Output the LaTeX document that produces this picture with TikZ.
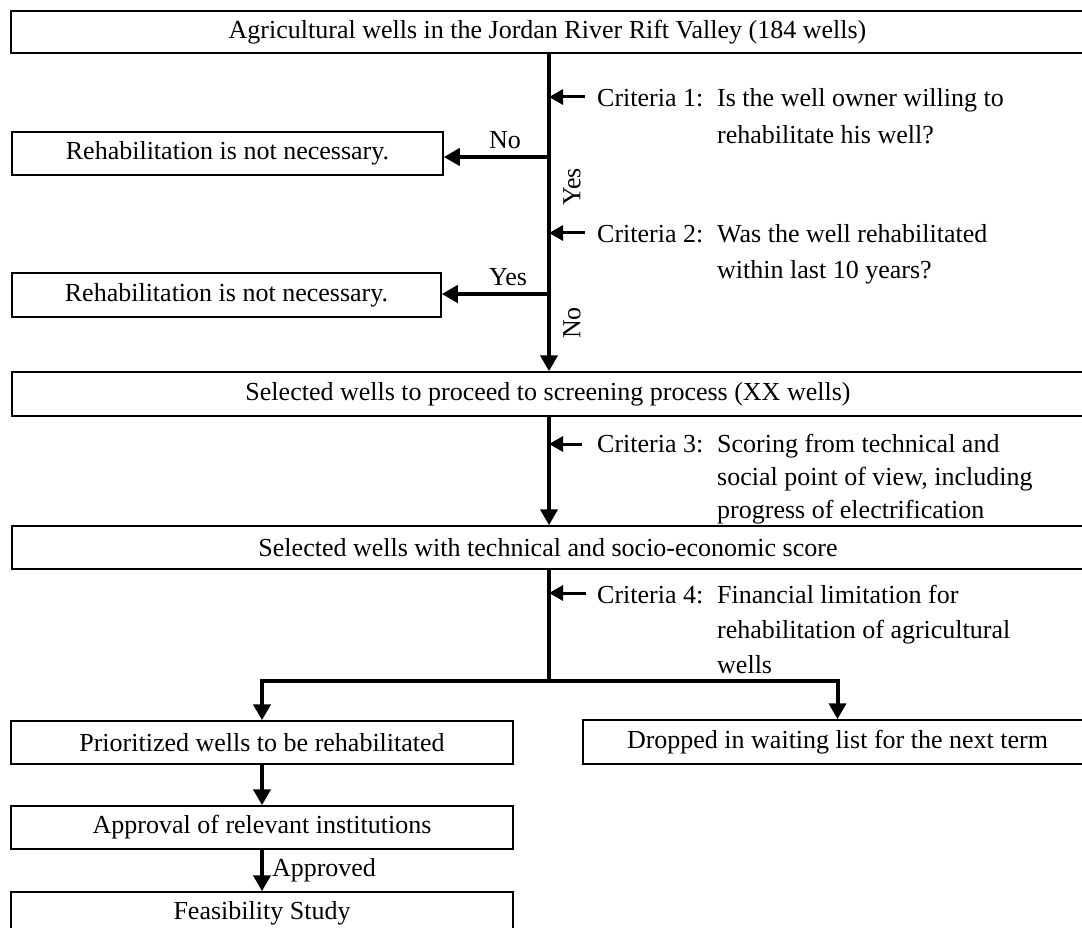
\documentclass[tikz,border=0pt]{standalone}
\usepackage{fontspec}
\setmainfont{Liberation Serif}
\usetikzlibrary{arrows.meta,calc}
\begin{document}
\begin{tikzpicture}[x=1pt,y=-1pt,
  font=\fontsize{26}{33}\selectfont,
  box/.style={draw, line width=1.5pt, inner sep=0pt, anchor=center},
  flow/.style={line width=4pt, -{Triangle[length=16pt,width=17pt]}},
  crit/.style={line width=3pt, -{Triangle[length=14pt,width=15pt]}},
  lbl/.style={inner sep=0pt}]
\useasboundingbox (0,0) rectangle (1082,928);
\clip (0,0) rectangle (1082,928);

% boxes
\node[box, minimum width=1073pt, minimum height=42pt] (top) at (547.5,32)
  {Agricultural wells in the Jordan River Rift Valley (184 wells)};
\node[box, minimum width=431pt, minimum height=43pt] (rehab1) at (227.5,153.5)
  {Rehabilitation is not necessary.};
\node[box, minimum width=429pt, minimum height=44pt] (rehab2) at (226.5,295)
  {Rehabilitation is not necessary.};
\node[box, minimum width=1072pt, minimum height=44pt] (sel1) at (548,394)
  {Selected wells to proceed to screening process (XX wells)};
\node[box, minimum width=1072pt, minimum height=43pt] (sel2) at (548,547.5)
  {Selected wells with technical and socio-economic score};
\node[box, minimum width=502pt, minimum height=43pt] (prior) at (262,742.5)
  {Prioritized wells to be rehabilitated};
\node[box, minimum width=509pt, minimum height=44pt] (drop) at (837.5,742)
  {Dropped in waiting list for the next term};
\node[box, minimum width=502pt, minimum height=43pt] (appr) at (262,827.5)
  {Approval of relevant institutions};
\node[box, minimum width=502pt, minimum height=43pt] (feas) at (262,913.5)
  {Feasibility Study};

% main spine and branches
\coordinate (spine) at (549,0);
\coordinate (b1) at (549,157);
\coordinate (b2) at (549,294);
\coordinate (split) at (549,681);
\draw[flow] (top.south -| spine) -- (sel1.north -| spine);
\draw[flow] (b1) -- (b1 -| rehab1.east);
\draw[flow] (b2) -- (b2 -| rehab2.east);
\draw[flow] (sel1.south -| spine) -- (sel2.north -| spine);
\draw[line width=3.5pt] (sel2.south -| spine) -- (split);
\draw[flow] (split) -| (prior.north);
\draw[flow] (split) -| (drop.north);
\draw[flow] (prior) -- (appr);
\draw[flow] (appr) -- (feas) node[lbl, midway, anchor=west, xshift=8pt] (apprlbl) {Approved};

% branch labels
\node[lbl] (no1) at (505,140) {No};
\node[lbl, rotate=90] (yes1) at (572,187) {Yes};
\node[lbl] (yes2) at (508,277) {Yes};
\node[lbl, rotate=90] (no2) at (572,323) {No};

% criteria arrows
\coordinate (c1) at (585,97);
\coordinate (c2) at (585,233);
\coordinate (c3) at (582,444);
\coordinate (c4) at (586,593);
\draw[crit] (c1) -- (c1 -| spine);
\draw[crit] (c2) -- (c2 -| spine);
\draw[crit] (c3) -- (c3 -| spine);
\draw[crit] (c4) -- (c4 -| spine);

% criteria texts
\node[lbl, anchor=base west] (c1a) at (597,107) {Criteria 1:};
\node[lbl, anchor=base west] (c1b) at (717,107) {Is the well owner willing to};
\node[lbl, anchor=base west] (c1c) at (717,144) {rehabilitate his well?};
\node[lbl, anchor=base west] (c2a) at (597,243) {Criteria 2:};
\node[lbl, anchor=base west] (c2b) at (717,243) {Was the well rehabilitated};
\node[lbl, anchor=base west] (c2c) at (717,279) {within last 10 years?};
\node[lbl, anchor=base west] (c3a) at (597,452) {Criteria 3:};
\node[lbl, anchor=base west] (c3b) at (717,452) {Scoring from technical and};
\node[lbl, anchor=base west] (c3c) at (717,485) {social point of view, including};
\node[lbl, anchor=base west] (c3d) at (717,518) {progress of electrification};
\node[lbl, anchor=base west] (c4a) at (597,603) {Criteria 4:};
\node[lbl, anchor=base west] (c4b) at (717,603) {Financial limitation for};
\node[lbl, anchor=base west] (c4c) at (717,638) {rehabilitation of agricultural};
\node[lbl, anchor=base west] (c4d) at (717,673) {wells};
\end{tikzpicture}
\end{document}
